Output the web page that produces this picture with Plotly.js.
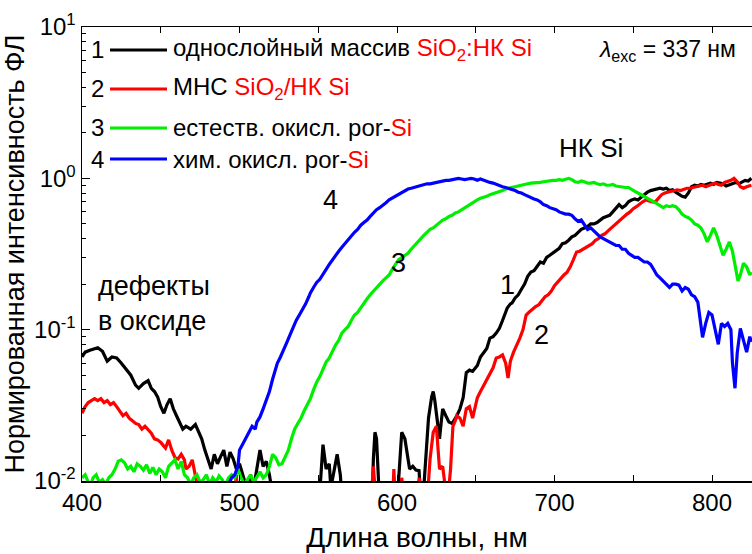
<!DOCTYPE html>
<html>
<head>
<meta charset="utf-8">
<script src="https://cdn.plot.ly/plotly-3.0.1.min.js"></script>
<style>html,body{margin:0;padding:0;background:#fff}</style>
</head>
<body>
<div id="chart" style="width:752px;height:554px"></div>
<script>
// ---- data (wavelength, nm / normalized PL intensity) ----
const x1 = [400,402,405,408,410,413,416,419,422,425,428,431,434,436,439,442,444,446,448,450,452,454,456,458,460,462,464,466,469,472,474,476,478,480,482,484,486,488,490,492,494,496,498,500,502,504,506,507,509,511,513,515,517,519,521,523,550,552,553,555,557,558,560,562,564,565,567,584,585,586,587,588,589,600,602,603,605,607,608,610,612,614,615,617,619,620,622,623,624,626,627,628,629,631,633,635,637,638,640,642,644,646,648,651,653,655,657,659,661,663,665,667,669,670,672,673,675,677,679,681,683,685,687,689,691,693,695,697,699,701,703,705,707,709,711,713,715,717,719,721,723,725,727,729,731,733,735,737,739,741,743,745,747,749,751,753,755,757,759,761,763,765,767,769,771,773,775,777,779,781,783,785,787,789,791,793,795,797,799,801,803,805,807,809,811,813,815,817,819,821,823,825];
const y1 = [0.066,0.071,0.073,0.075,0.076,0.072,0.062,0.066,0.065,0.060,0.055,0.050,0.043,0.041,0.044,0.046,0.041,0.039,0.036,0.031,0.028,0.032,0.035,0.030,0.027,0.024,0.022,0.023,0.022,0.0236,0.021,0.019,0.016,0.0138,0.012,0.015,0.013,0.0145,0.016,0.0125,0.0155,0.014,0.012,0.013,0.011,0.0095,0.008,0.011,0.009,0.012,0.016,0.0125,0.0135,0.011,0.008,0.006,0.006,0.012,0.0174,0.012,0.013,0.009,0.012,0.015,0.011,0.008,0.006,0.006,0.014,0.021,0.019,0.012,0.007,0.007,0.015,0.021,0.019,0.0135,0.012,0.0125,0.0118,0.0117,0.008,0.009,0.018,0.026,0.036,0.039,0.034,0.024,0.019,0.024,0.030,0.027,0.0245,0.024,0.026,0.027,0.030,0.0355,0.052,0.054,0.053,0.058,0.066,0.071,0.075,0.088,0.090,0.095,0.102,0.115,0.130,0.139,0.148,0.150,0.162,0.170,0.185,0.200,0.225,0.24,0.245,0.262,0.28,0.275,0.30,0.31,0.32,0.33,0.345,0.37,0.375,0.39,0.41,0.42,0.44,0.46,0.47,0.48,0.50,0.50,0.51,0.53,0.55,0.56,0.57,0.60,0.64,0.67,0.64,0.66,0.70,0.72,0.73,0.72,0.75,0.78,0.81,0.83,0.84,0.84,0.86,0.85,0.86,0.83,0.84,0.81,0.78,0.76,0.75,0.80,0.88,0.90,0.89,0.91,0.90,0.92,0.93,0.91,0.94,0.93,0.92,0.89,0.91,0.93,0.94,0.92,0.95,0.97,0.96,1.0];

const x2 = [400,402,404,406,408,410,412,414,416,418,420,422,424,426,428,430,432,434,436,438,440,442,444,446,448,450,452,453,455,457,459,461,463,465,466,468,470,472,474,476,496,498,499,583,585,586,587,597,598,599,602,603,605,613,614,616,619,621,623,625,626,627,629,631,632,634,635.5,637,638,640,642,644,646,648,650,651,653,655,657,659,661,663,665,667,669,670.5,672,674,676,678,680,682,684,686,688,690,692,694,696,698,700,702,704,706,708,710,712,714,716,718,720,722,724,726,728,730,732,734,736,738,740,742,744,746,748,750,752,754,756,758,760,762,764,766,768,770,772,774,776,778,780,782,784,786,788,790,792,794,796,798,800,802,804,806,808,810,812,814,816,818,820,822,825];
const y2 = [0.028,0.031,0.033,0.034,0.035,0.034,0.035,0.033,0.034,0.032,0.033,0.031,0.029,0.027,0.028,0.026,0.025,0.024,0.0236,0.022,0.023,0.022,0.0207,0.019,0.0187,0.018,0.017,0.0165,0.0187,0.016,0.0143,0.014,0.015,0.0138,0.012,0.0125,0.0138,0.011,0.0085,0.006,0.006,0.011,0.007,0.006,0.0125,0.009,0.006,0.006,0.012,0.007,0.006,0.0105,0.007,0.007,0.0105,0.008,0.007,0.014,0.021,0.023,0.016,0.012,0.0125,0.009,0.007,0.012,0.023,0.025,0.027,0.026,0.023,0.030,0.031,0.026,0.033,0.0355,0.039,0.043,0.047,0.052,0.056,0.065,0.066,0.068,0.060,0.048,0.062,0.071,0.078,0.088,0.100,0.125,0.131,0.137,0.142,0.146,0.155,0.165,0.17,0.18,0.195,0.206,0.22,0.23,0.24,0.26,0.29,0.326,0.33,0.34,0.35,0.36,0.37,0.39,0.40,0.42,0.43,0.45,0.47,0.49,0.51,0.53,0.56,0.58,0.60,0.63,0.65,0.68,0.70,0.72,0.71,0.70,0.70,0.74,0.78,0.80,0.81,0.82,0.83,0.84,0.83,0.85,0.86,0.86,0.87,0.88,0.89,0.90,0.88,0.90,0.92,0.93,0.91,0.90,0.94,0.95,0.97,1.0,0.95,0.88,0.86,0.88,0.90];

const x3 = [400,402,404,405,407,409,411,413,415,417,419,421,423,425,427,429,431,433,435,437,439,441,443,445,447,449,451,453,455,457,459,461,463,465,467,469,471,473,475,477,479,481,483,485,487,489,491,493,495,497,499,501,503,505,507,509,511,513,515,517,519,521,523,525,527,529,531,533,535,537,539,541,543,545,547,549,551,553,555,557,559,561,563,565,567,569,571,573,575,577,579,581,583,585,587,589,591,593,595,597,599,601,603,605,607,609,611,613,615,617,619,621,623,625,627,629,631,633,635,637,639,641,643,645,647,649,651,653,655,657,659,661,663,665,667,669,671,673,675,677,679,681,683,685,687,689,691,693,695,697,699,701,703,705,707,709,711,713,715,717,719,721,723,725,727,729,731,733,735,737,739,741,743,745,747,749,751,753,755,757,759,761,763,765,767,769,771,773,775,777,779,781,783,785,787,789,791,793,795,797,799,801,803,805,807,809,811,813,815,816.5,818,820,822,824,825];
const y3 = [0.0105,0.011,0.0098,0.009,0.0105,0.011,0.0098,0.0102,0.0095,0.0105,0.011,0.012,0.0135,0.0138,0.0132,0.012,0.0125,0.0115,0.013,0.0125,0.0118,0.0128,0.0112,0.0123,0.011,0.012,0.0115,0.0105,0.0125,0.0132,0.0138,0.012,0.0135,0.011,0.0105,0.0095,0.0105,0.011,0.0098,0.0102,0.011,0.0095,0.0105,0.0098,0.0108,0.0102,0.0093,0.0105,0.011,0.0105,0.012,0.0105,0.0095,0.0102,0.011,0.0098,0.0107,0.0115,0.0105,0.011,0.0125,0.0150,0.0142,0.0128,0.013,0.0145,0.016,0.019,0.022,0.024,0.026,0.029,0.032,0.035,0.040,0.045,0.049,0.055,0.061,0.065,0.072,0.079,0.085,0.095,0.100,0.105,0.115,0.125,0.13,0.14,0.15,0.16,0.17,0.18,0.19,0.20,0.21,0.22,0.23,0.25,0.27,0.29,0.30,0.31,0.32,0.34,0.36,0.38,0.40,0.42,0.44,0.46,0.47,0.49,0.51,0.53,0.54,0.56,0.57,0.59,0.60,0.62,0.64,0.66,0.68,0.70,0.72,0.74,0.75,0.76,0.78,0.79,0.80,0.81,0.83,0.85,0.86,0.87,0.88,0.90,0.90,0.91,0.92,0.93,0.93,0.94,0.94,0.95,0.96,0.96,0.97,0.97,0.98,0.97,0.99,1.0,0.98,0.95,0.94,0.96,0.95,0.93,0.93,0.94,0.92,0.91,0.92,0.90,0.90,0.91,0.89,0.88,0.88,0.87,0.87,0.85,0.82,0.80,0.78,0.76,0.74,0.72,0.70,0.68,0.66,0.64,0.66,0.65,0.66,0.65,0.62,0.58,0.56,0.55,0.53,0.50,0.49,0.47,0.43,0.38,0.42,0.47,0.42,0.36,0.31,0.34,0.38,0.33,0.26,0.21,0.23,0.275,0.26,0.23,0.24];

const x4 = [490,493,495,497,499,500,502,504,506,508,510,511,513,515,517,519,521,523,524,526,528,530,532,534,536,538,540,542,544,545,547,549,551,553,555,557,559,561,563,565,567,569,571,573,575,577,579,581,583,585,587,589,591,593,595,597,599,601,603,605,607,609,611,613,615,617,619,621,623,625,627,629,631,633,635,637,639,641,643,645,647,649,651,653,655,657,659,661,663,665,667,669,671,673,675,677,679,681,683,685,687,689,691,693,695,697,699,701,703,705,707,709,711,713,715,717,719,721,723,725,727,729,731,733,735,737,739,741,743,745,747,749,751,753,755,757,759,761,763,765,767,769,771,773,775,777,779,781,783,785,787,789,791,793,794,796,798,800,802,804,806,808,810,812,813,814.6,816,818,820,822,824,825];
const y4 = [0.007,0.0095,0.0105,0.011,0.0125,0.016,0.0175,0.019,0.021,0.023,0.022,0.0245,0.0265,0.030,0.034,0.039,0.047,0.055,0.060,0.066,0.073,0.082,0.092,0.104,0.115,0.125,0.135,0.148,0.165,0.175,0.190,0.205,0.215,0.23,0.25,0.27,0.29,0.31,0.33,0.35,0.37,0.39,0.42,0.44,0.46,0.49,0.51,0.53,0.56,0.59,0.62,0.64,0.66,0.69,0.72,0.74,0.77,0.79,0.81,0.83,0.85,0.86,0.87,0.88,0.90,0.91,0.92,0.92,0.93,0.95,0.95,0.96,0.97,0.97,0.98,0.99,1.0,0.99,0.98,0.99,1.0,0.99,0.97,0.99,0.97,0.95,0.94,0.93,0.91,0.90,0.88,0.87,0.86,0.84,0.83,0.81,0.80,0.78,0.76,0.74,0.73,0.72,0.70,0.67,0.66,0.64,0.63,0.62,0.60,0.59,0.58,0.58,0.57,0.54,0.52,0.53,0.49,0.46,0.47,0.45,0.43,0.41,0.40,0.39,0.38,0.37,0.36,0.36,0.34,0.34,0.32,0.31,0.30,0.30,0.29,0.28,0.28,0.27,0.25,0.23,0.22,0.21,0.20,0.19,0.20,0.20,0.197,0.18,0.19,0.185,0.17,0.165,0.152,0.11,0.089,0.11,0.13,0.125,0.10,0.08,0.11,0.105,0.11,0.10,0.06,0.041,0.07,0.102,0.085,0.071,0.09,0.083];

const seriesNames = ['1', '2', '3', '4'];
const seriesColors = ['#000000', '#ff0000', '#00ee00', '#0000ff'];
const xTickVals = [400, 500, 600, 700, 800];
const xMinorVals = [450, 550, 650, 750];
const yTickVals = [0.01, 0.1, 1, 10];
const yTickText = ['10<sup>-2</sup>', '10<sup>-1</sup>', '10<sup>0</sup>', '10<sup>1</sup>'];
const yMinorVals = [0.02,0.03,0.04,0.05,0.06,0.07,0.08,0.09,0.2,0.3,0.4,0.5,0.6,0.7,0.8,0.9,2,3,4,5,6,7,8,9];

const legendTexts = [
  'однослойный массив <span style="color:#ff0000">SiO<sub>2</sub>:НК Si</span>',
  'МНС <span style="color:#ff0000">SiO<sub>2</sub>/НК Si</span>',
  'естеств. окисл. por-<span style="color:#ff0000">Si</span>',
  'хим. окисл. por-<span style="color:#ff0000">Si</span>'
];

// ---- layout helpers (pixel -> paper) ----
const L = 82, T = 27, W = 670, H = 454;
const px = v => (v - L) / W;
const py = v => (T + H - v) / H;

const xs = [x1, x2, x3, x4], ys = [y1, y2, y3, y4];
const traces = xs.map((x, i) => ({
  x: x, y: ys[i], type: 'scatter', mode: 'lines', name: seriesNames[i],
  line: {color: seriesColors[i], width: 3.2}, hoverinfo: 'skip'
}));

const F = 'Liberation Sans, Arial, sans-serif';
const ann = [];
const shapes = [];
const rowY = [50, 89, 128, 159];
rowY.forEach((y, i) => {
  ann.push({xref:'paper', yref:'paper', x: px(97), y: py(y), text: seriesNames[i], showarrow:false,
    xanchor:'center', yanchor:'middle', font:{size:24, color:'#000', family:F}});
  ann.push({xref:'paper', yref:'paper', x: px(171), y: py(y), text: legendTexts[i], showarrow:false,
    xanchor:'left', yanchor:'middle', font:{size:24, color:'#000', family:F}});
  shapes.push({type:'line', xref:'paper', yref:'paper', x0: px(110), x1: px(167), y0: py(y), y1: py(y),
    line:{color: seriesColors[i], width:3.2}});
});
ann.push({xref:'paper', yref:'paper', x: px(596), y: py(51), text:'<i>λ</i><sub>exc</sub> = 337 нм',
  showarrow:false, xanchor:'left', yanchor:'middle', font:{size:23, color:'#000', family:F}});
ann.push({xref:'paper', yref:'paper', x: px(591), y: py(148), text:'НК Si',
  showarrow:false, xanchor:'center', yanchor:'middle', font:{size:26, color:'#000', family:F}});
ann.push({xref:'paper', yref:'paper', x: px(96), y: py(286), text:'дефекты',
  showarrow:false, xanchor:'left', yanchor:'middle', font:{size:27, color:'#000', family:F}});
ann.push({xref:'paper', yref:'paper', x: px(96), y: py(321), text:'в оксиде',
  showarrow:false, xanchor:'left', yanchor:'middle', font:{size:27, color:'#000', family:F}});
[['4', 330, 200], ['3', 398, 263], ['1', 507, 285], ['2', 541, 335]].forEach(a => {
  ann.push({xref:'paper', yref:'paper', x: px(a[1]), y: py(a[2]), text: a[0],
    showarrow:false, xanchor:'center', yanchor:'middle', font:{size:27, color:'#000', family:F}});
});

const layout = {
  width: 752, height: 554,
  margin: {l: L, r: 0, t: T, b: 554 - T - H, pad: 0},
  paper_bgcolor: '#fff', plot_bgcolor: '#fff',
  showlegend: false,
  font: {family: F, color: '#000', size: 24},
  xaxis: {
    range: [400, 400 + W / 1.575], tickmode: 'array', tickvals: xTickVals,
    ticks: 'inside', ticklen: 6, tickwidth: 1, tickcolor: '#000',
    showline: true, linewidth: 1.5, linecolor: '#000', mirror: 'ticks',
    showgrid: false, zeroline: false,
    minor: {tickmode: 'array', tickvals: xMinorVals, ticks: 'inside', ticklen: 6, tickwidth: 1, tickcolor: '#000', showgrid: false},
    tickfont: {size: 24, family: F},
    title: {text: 'Длина волны, нм', font: {size: 28, family: F}, standoff: 12}
  },
  yaxis: {
    type: 'log', range: [-2, 1], tickmode: 'array', tickvals: yTickVals, ticktext: yTickText,
    ticks: 'inside', ticklen: 8, tickwidth: 1, tickcolor: '#000',
    showline: true, linewidth: 1.5, linecolor: '#000', mirror: false,
    showgrid: false, zeroline: false,
    minor: {tickmode: 'array', tickvals: yMinorVals, ticks: 'inside', ticklen: 4, tickwidth: 1, tickcolor: '#000', showgrid: false},
    tickfont: {size: 24, family: F},
    title: {text: 'Нормированная интенсивность ФЛ', font: {size: 27, family: F}, standoff: 2}
  },
  annotations: ann,
  shapes: shapes
};

Plotly.newPlot('chart', traces, layout, {staticPlot: true, displayModeBar: false});
</script>
</body>
</html>
